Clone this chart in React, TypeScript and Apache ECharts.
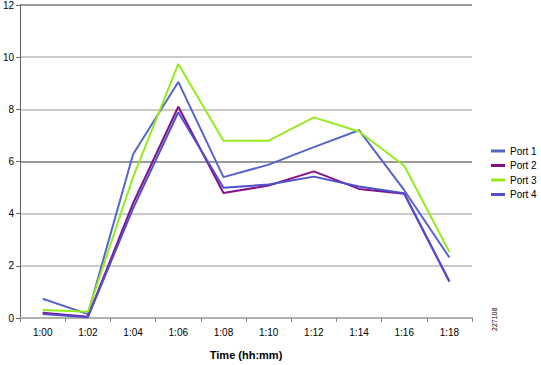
import React, { useEffect, useRef } from "react";
import * as echarts from "echarts";

const categories = ["1:00", "1:02", "1:04", "1:06", "1:08", "1:10", "1:12", "1:14", "1:16", "1:18"];
const port1 = [0.74, 0.15, 6.28, 9.05, 5.4, 5.88, 6.55, 7.2, 4.9, 2.32];
const port2 = [0.2, 0.05, 4.4, 8.1, 4.79, 5.08, 5.62, 4.95, 4.76, 1.4];
const port3 = [0.31, 0.24, 5.4, 9.74, 6.8, 6.8, 7.69, 7.15, 5.84, 2.53];
const port4 = [0.15, 0.03, 4.2, 7.89, 4.99, 5.12, 5.42, 5.04, 4.78, 1.4];
const seriesNames = ["Port 1", "Port 2", "Port 3", "Port 4"];
const seriesColors = ["#5664cc", "#83118a", "#94ec1e", "#5050cc"];

export default function App() {
  const ref = useRef<HTMLDivElement>(null);
  useEffect(() => {
    if (!ref.current) return;
    const chart = echarts.init(ref.current, null, { renderer: "svg" });
    const data = [port1, port2, port3, port4];
    chart.setOption({
      animation: false,
      backgroundColor: "#ffffff",
      textStyle: { fontFamily: "Liberation Sans, Arial, sans-serif" },
      grid: { left: 18, top: 5, right: 69, bottom: 42, containLabel: false },
      legend: {
        orient: "vertical",
        left: 486,
        top: 140,
        icon: "rect",
        itemWidth: 14,
        itemHeight: 3,
        itemGap: 2.5,
        textStyle: { fontSize: 10, color: "#000", fontFamily: "Liberation Sans, Arial, sans-serif", lineHeight: 12 },
        data: seriesNames,
      },
      xAxis: {
        type: "category",
        data: categories,
        boundaryGap: true,
        name: "Time (hh:mm)",
        nameLocation: "middle",
        nameGap: 31,
        nameTextStyle: { fontSize: 11, fontWeight: "bold", color: "#000" },
        axisLine: { lineStyle: { color: "#b0b0b0", width: 2 } },
        axisTick: { show: true, length: 4, lineStyle: { color: "#888" } },
        axisLabel: { fontSize: 10, color: "#000", margin: 9 },
      },
      yAxis: {
        type: "value",
        min: 0,
        max: 12,
        interval: 2,
        axisLine: { show: true, lineStyle: { color: "#666", width: 1 } },
        axisTick: { show: true, length: 4, lineStyle: { color: "#666" } },
        axisLabel: { fontSize: 10, color: "#000", margin: 6 },
        splitLine: {
          show: true,
          lineStyle: {
            color: ["#b8b8b8", "#b8b8b8", "#b8b8b8", "#777777", "#b8b8b8", "#b8b8b8", "#777777"],
            width: 1.5,
          },
        },
      },
      series: data.map((d, i) => ({
        name: seriesNames[i],
        type: "line",
        data: d,
        symbol: "none",
        lineStyle: { width: 2, color: seriesColors[i] },
        itemStyle: { color: seriesColors[i] },
      })),
      graphic: [
        {
          type: "text",
          x: 491,
          y: 331,
          rotation: Math.PI / 2,
          style: { text: "227108", fontSize: 7, fill: "#000", fontFamily: "Liberation Sans, Arial, sans-serif" },
        },
      ],
    });
    return () => chart.dispose();
  }, []);
  return <div ref={ref} style={{ width: 541, height: 365, position: "absolute", left: 0, top: 0 }} />;
}
